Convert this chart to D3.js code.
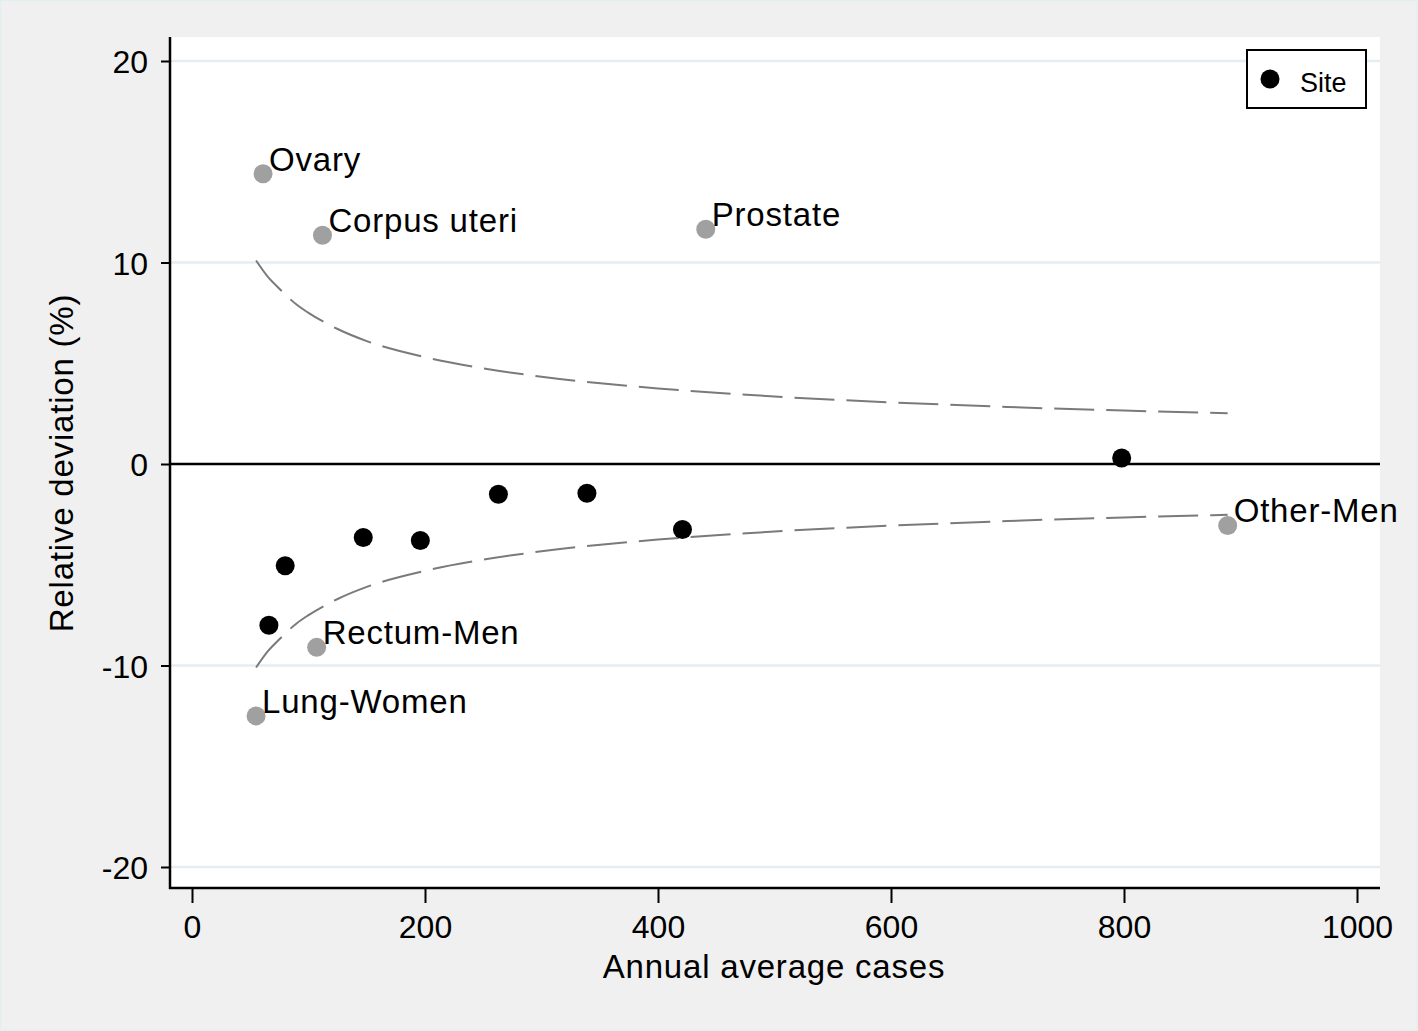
<!DOCTYPE html>
<html><head><meta charset="utf-8">
<script src="https://cdn.jsdelivr.net/npm/d3@7"></script>
<style>
html,body{margin:0;padding:0;background:#f0f0f0;}
svg{display:block;font-family:"Liberation Sans",Arial,Helvetica,sans-serif;}
</style></head>
<body>
<svg id="c" width="1418" height="1031"></svg>
<script>
// Labelled sites (grey)
const labelNames = ["Ovary","Corpus uteri","Prostate","Other-Men","Rectum-Men","Lung-Women"];
const labelX = [61, 112, 441, 889, 107, 55];
const labelY = [14.4, 11.35, 11.65, -3.05, -9.1, -12.5];
// Other sites (black)
const siteX = [66, 80, 147, 196, 263, 339, 421, 798];
const siteY = [-8.0, -5.05, -3.65, -3.8, -1.5, -1.45, -3.25, 0.3];
// Control limits
const limitX = [55, 65, 75, 90, 100, 125, 150, 200, 250, 300, 400, 500, 600, 700, 800, 889];
const limitUpper = [10.1, 9.3, 8.7, 7.9, 7.5, 6.7, 6.1, 5.3, 4.75, 4.33, 3.75, 3.35, 3.06, 2.83, 2.65, 2.52];
const xTicks = [0, 200, 400, 600, 800, 1000];
const yTicks = [-20, -10, 0, 10, 20];

const svg = d3.select("#c");
const W = 1418, H = 1031;
const L = 170, R = 1380, T = 37, B = 888;

svg.append("rect").attr("x",0).attr("y",0).attr("width",W).attr("height",H).attr("fill","#f0f0f0");
svg.append("rect").attr("x",0.5).attr("y",0.5).attr("width",W-1).attr("height",H-1)
  .attr("fill","none").attr("stroke","#e3eef0").attr("stroke-width",1.5);
svg.append("rect").attr("x",L).attr("y",T).attr("width",R-L).attr("height",B-T).attr("fill","#fff");

const x = d3.scaleLinear().domain([0,1000]).range([192,1357]);
const y = d3.scaleLinear().domain([-20,20]).range([867,61]);

// gridlines
svg.append("g").selectAll("line").data(yTicks.filter(d=>d!==0)).join("line")
  .attr("x1",L+1).attr("x2",R).attr("y1",d=>y(d)).attr("y2",d=>y(d))
  .attr("stroke","#e4eef2").attr("stroke-width",2.5);

// zero line
svg.append("line").attr("x1",L).attr("x2",R).attr("y1",y(0)).attr("y2",y(0))
  .attr("stroke","#000").attr("stroke-width",2.5);

// limits
const line = d3.line().x(d=>x(d[0])).y(d=>y(d[1])).curve(d3.curveMonotoneX);
const up = limitX.map((v,i)=>[v, limitUpper[i]]);
const lo = limitX.map((v,i)=>[v, -limitUpper[i]]);
[up, lo].forEach(data=>{
  svg.append("path").attr("d",line(data)).attr("fill","none")
    .attr("stroke","#7a7a7a").attr("stroke-width",2).attr("stroke-dasharray","40,12");
});

const fmt = d => String(d).replace("\u2212","-");

// axes
const yAxis = d3.axisLeft(y).tickValues(yTicks).tickSize(13).tickPadding(6).tickFormat(d=>String(d));
const gy = svg.append("g").attr("transform",`translate(${L},0)`).call(yAxis);
gy.select(".domain").remove();
gy.append("line").attr("x1",0).attr("x2",0).attr("y1",T).attr("y2",B+1).attr("stroke","#000").attr("stroke-width",2.5);
gy.selectAll(".tick line").attr("stroke","#000").attr("stroke-width",2).attr("x2",-9);
gy.selectAll(".tick text").attr("font-size",32).attr("fill","#000").attr("x",-22).attr("dy","0.36em")
  .attr("font-family","Liberation Sans, Arial, sans-serif");

const xAxis = d3.axisBottom(x).tickValues(xTicks).tickSize(13).tickPadding(8).tickFormat(d=>String(d));
const gx = svg.append("g").attr("transform",`translate(0,${B})`).call(xAxis);
gx.select(".domain").remove();
gx.append("line").attr("x1",L-1).attr("x2",R).attr("y1",0).attr("y2",0).attr("stroke","#000").attr("stroke-width",2.5);
gx.selectAll(".tick line").attr("stroke","#000").attr("stroke-width",2).attr("y2",15);
gx.selectAll(".tick text").attr("font-size",32).attr("fill","#000").attr("y",27).attr("dy","0.71em")
  .attr("font-family","Liberation Sans, Arial, sans-serif");

// axis titles
svg.append("text").attr("x",774).attr("y",978).attr("text-anchor","middle")
  .attr("font-size",33).attr("letter-spacing",0.8).text("Annual average cases");
svg.append("text").attr("transform","translate(73,463) rotate(-90)").attr("text-anchor","middle")
  .attr("font-size",33).attr("letter-spacing",0.8).text("Relative deviation (%)");

// black points
svg.append("g").selectAll("circle").data(siteX).join("circle")
  .attr("cx",d=>x(d)).attr("cy",(d,i)=>y(siteY[i])).attr("r",9.5).attr("fill","#000");

// grey labelled points
const g = svg.append("g");
g.selectAll("circle").data(labelX).join("circle")
  .attr("cx",d=>x(d)).attr("cy",(d,i)=>y(labelY[i])).attr("r",9.5).attr("fill","#a0a0a0");
g.selectAll("text").data(labelNames).join("text")
  .attr("x",(d,i)=>x(labelX[i])+6).attr("y",(d,i)=>y(labelY[i])-3)
  .attr("font-size",33).attr("letter-spacing",0.8).attr("fill","#000").text(d=>d);

// legend
svg.append("rect").attr("x",1247).attr("y",50).attr("width",119).attr("height",58)
  .attr("fill","#fff").attr("stroke","#000").attr("stroke-width",2);
svg.append("circle").attr("cx",1270).attr("cy",79).attr("r",9.5).attr("fill","#000");
svg.append("text").attr("x",1300).attr("y",92).attr("font-size",27).text("Site");
</script>
</body></html>
